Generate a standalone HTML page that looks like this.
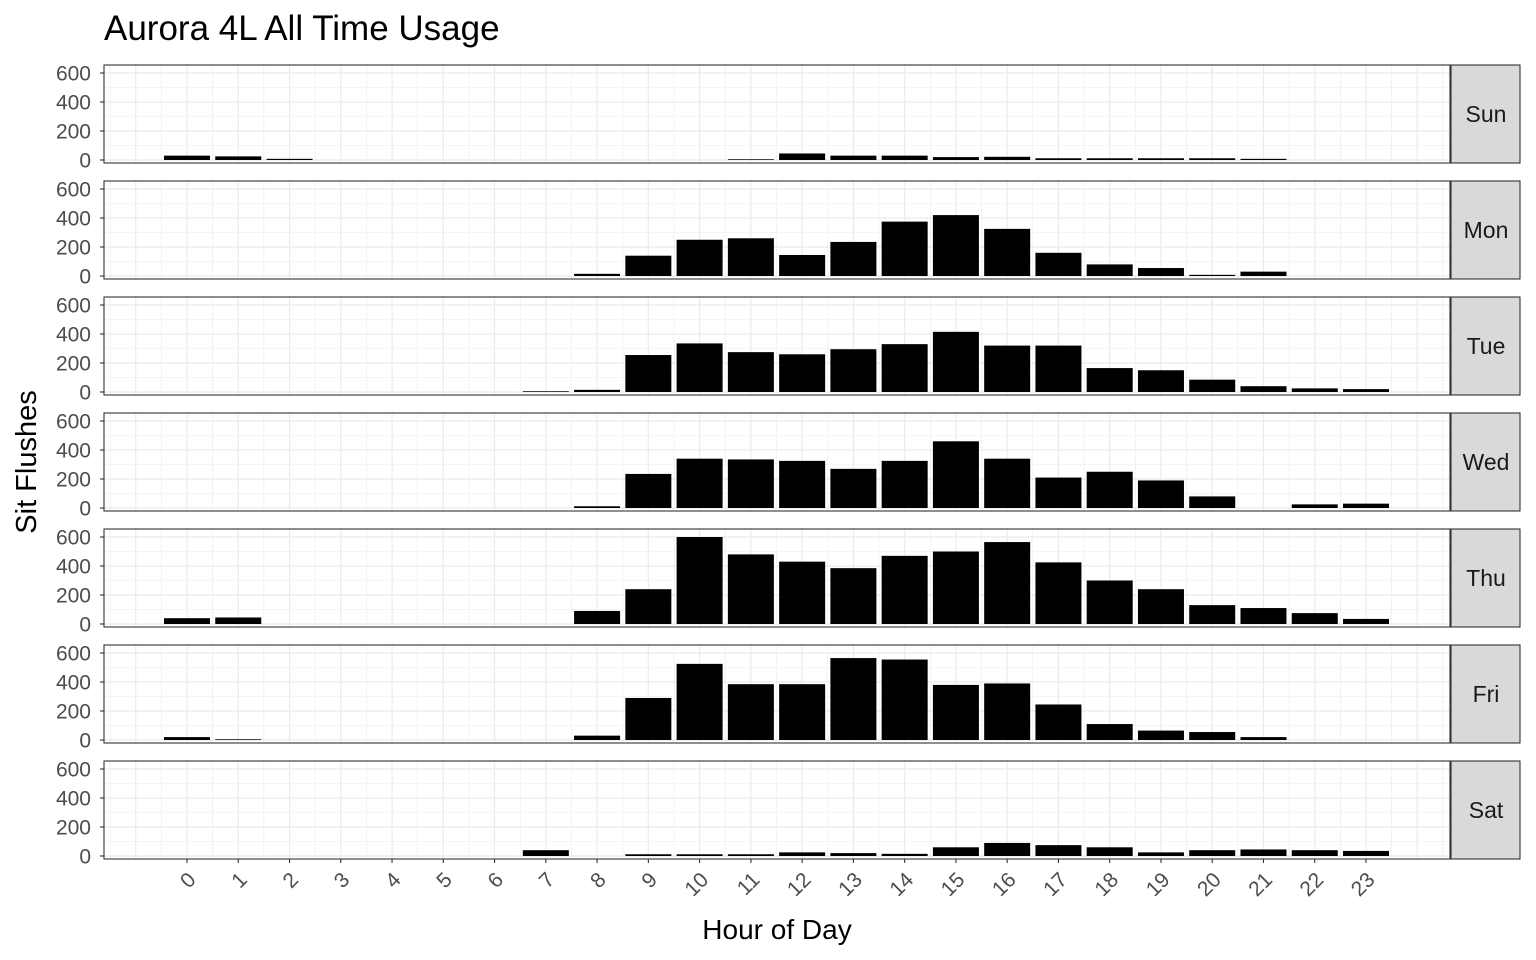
<!DOCTYPE html>
<html><head><meta charset="utf-8"><style>
body{margin:0;background:#fff;}
svg{display:block;font-family:"Liberation Sans",Arial,sans-serif;}
</style></head><body>
<svg id="chart" width="1536" height="960" viewBox="0 0 1536 960" xmlns="http://www.w3.org/2000/svg">
<text x="104" y="40" font-size="35" fill="#000">Aurora 4L All Time Usage</text>
<text x="777" y="939" font-size="28" text-anchor="middle" fill="#000">Hour of Day</text>
<text transform="translate(36,462) rotate(-90)" font-size="29" text-anchor="middle" fill="#000">Sit Flushes</text>
<g id="panels"></g>
</svg>
<script>
const days = ["Sun","Mon","Tue","Wed","Thu","Fri","Sat"];
const hours = [0,1,2,3,4,5,6,7,8,9,10,11,12,13,14,15,16,17,18,19,20,21,22,23];
const yTicks = [0,200,400,600];
const sunVals = [30,25,8,0,0,0,0,0,0,0,0,5,45,30,30,20,22,12,12,12,12,8,0,0];
const monVals = [0,0,0,0,0,0,0,0,15,140,250,260,145,235,375,420,325,160,80,55,8,30,0,0];
const tueVals = [0,0,0,0,0,0,0,5,15,255,335,275,260,295,330,415,320,320,165,150,85,40,25,20];
const wedVals = [0,0,0,0,0,0,0,0,12,235,340,335,325,270,325,460,340,210,250,190,80,0,25,30];
const thuVals = [40,45,0,0,0,0,0,0,90,240,600,480,430,385,470,500,565,425,300,240,130,110,75,35];
const friVals = [20,5,0,0,0,0,0,0,30,290,525,385,385,565,555,380,390,245,110,65,55,20,0,0];
const satVals = [0,0,0,0,0,0,0,40,0,12,12,12,25,20,15,60,90,75,60,25,40,45,40,35];
const series = [sunVals,monVals,tueVals,wedVals,thuVals,friVals,satVals];

const NS="http://www.w3.org/2000/svg";
const g=document.getElementById("panels");
const PX0=104, PX1=1450, PH=98, STEP=116, TOP0=65;
const xScale=h=>187+h*(1366-187)/23;
const barW=46;
function mk(tag,attrs,parent){const e=document.createElementNS(NS,tag);for(const k in attrs)e.setAttribute(k,attrs[k]);parent.appendChild(e);return e;}
days.forEach((day,i)=>{
  const top=TOP0+i*STEP;
  const y0=top+95;
  const yScale=v=>y0-v*0.145;
  const pg=mk("g",{},g);
  
  
  [100,300,500].forEach(v=>mk("line",{x1:PX0,x2:PX1,y1:yScale(v),y2:yScale(v),stroke:"#ebebeb","stroke-width":0.6},pg));
  for(let h=-1.5;h<=24.5;h+=1){const x=xScale(h);if(x>PX0&&x<PX1)mk("line",{x1:x,x2:x,y1:top,y2:top+PH,stroke:"#ebebeb","stroke-width":0.6},pg);}
  yTicks.forEach(v=>mk("line",{x1:PX0,x2:PX1,y1:yScale(v),y2:yScale(v),stroke:"#ebebeb","stroke-width":1.2},pg));
  for(let h=-1;h<=24;h++){const x=xScale(h);if(x>PX0&&x<PX1)mk("line",{x1:x,x2:x,y1:top,y2:top+PH,stroke:"#ebebeb","stroke-width":1.2},pg);}
  series[i].forEach((v,j)=>{
    if(v<=0)return;
    const r=mk("rect",{x:xScale(hours[j])-barW/2,y:yScale(v),width:barW,height:y0-yScale(v),fill:"#000"},pg);
    
    
  });
  mk("rect",{x:PX0,y:top,width:PX1-PX0,height:PH,fill:"none",stroke:"#333","stroke-width":1.1},pg);
  yTicks.forEach(v=>{
    mk("line",{x1:PX0-4,x2:PX0,y1:yScale(v),y2:yScale(v),stroke:"#333","stroke-width":1.1},pg);
    const t=mk("text",{x:91,y:yScale(v)+7.5,"font-size":21,"text-anchor":"end",fill:"#4d4d4d"},pg);
    t.textContent=v;
    
    
  });
  const s=mk("rect",{x:1451,y:top,width:69,height:PH,fill:"#d9d9d9",stroke:"#333","stroke-width":1.1},pg);
  
  
  const st=mk("text",{x:1486,y:top+PH/2+8,"font-size":23,"text-anchor":"middle",fill:"#1a1a1a"},pg);
  st.textContent=day;
  
  
});
const xb=TOP0+6*STEP+PH;
hours.forEach(h=>{
  const x=xScale(h);
  mk("line",{x1:x,x2:x,y1:xb,y2:xb+4,stroke:"#333","stroke-width":1.1},g);
  const t=mk("text",{transform:`translate(${x+10},${xb+22}) rotate(-45)`,"font-size":21,"text-anchor":"end",fill:"#4d4d4d"},g);
  t.textContent=h;
  
  
});
</script>
</body></html>
